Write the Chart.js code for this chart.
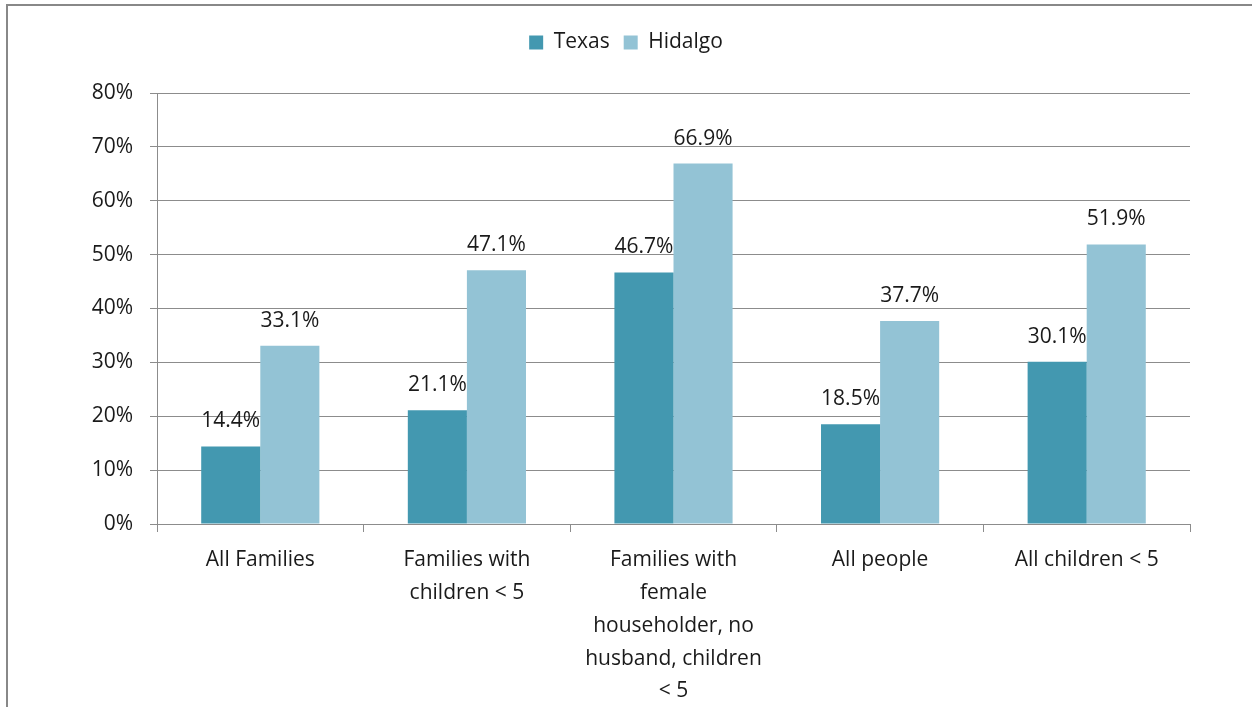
<!DOCTYPE html>
<html>
<head>
<meta charset="utf-8">
<script src="https://cdn.jsdelivr.net/npm/chart.js@4"></script>
<style>
  body { margin: 0; background: #fff; overflow: hidden; }
  #wrap { position: relative; width: 1252px; height: 707px; }
  #frame { position: absolute; left: 6px; top: 4px; width: 1400px; height: 900px;
           border-top: 2px solid #888; border-left: 2px solid #888; pointer-events: none; }
</style>
</head>
<body>
<div id="wrap">
  <canvas id="povertyChart" width="1252" height="707"></canvas>
  <div id="frame"></div>
</div>
<script>
let categories = [
  'All Families',
  ['Families with', 'children < 5'],
  ['Families with', 'female', 'householder, no', 'husband, children', '< 5'],
  'All people',
  'All children < 5'
];
let texas = [14.4, 21.1, 46.7, 18.5, 30.1];
let hidalgo = [33.1, 47.1, 66.9, 37.7, 51.9];
let yTicks = [0, 10, 20, 30, 40, 50, 60, 70, 80];

let fontName = "'Open Sans', 'DejaVu Sans', sans-serif";
let textColor = '#1a1a1a';
let gridColor = '#8c8c8c';

// value labels above each bar
let barLabels = {
  id: 'barLabels',
  afterDatasetsDraw(chart) {
    let ctx = chart.ctx;
    ctx.save();
    ctx.font = '21px ' + fontName;
    ctx.fillStyle = textColor;
    ctx.textAlign = 'center';
    ctx.textBaseline = 'alphabetic';
    chart.data.datasets.forEach((ds, i) => {
      chart.getDatasetMeta(i).data.forEach((bar, j) => {
        ctx.fillText(ds.data[j].toFixed(1) + '%', bar.x, bar.y - 19);
      });
    });
    ctx.restore();
  }
};

// fixed legend height so the plot starts at the right place
let legendHeight = {
  id: 'legendHeight',
  beforeUpdate(chart) {
    let lg = chart.legend;
    if (lg && !lg._fixed) {
      let fit = lg.fit;
      lg.fit = function () { fit.call(this); this.height = 75; };
      lg._fixed = true;
    }
  }
};

let ctx = document.getElementById('povertyChart').getContext('2d');
let myChart = new Chart(ctx, {
  type: 'bar',
  data: {
    labels: categories,
    datasets: [{
      label: 'Texas',
      data: texas,
      backgroundColor: '#4398b0',
      borderWidth: 0
    }, {
      label: 'Hidalgo',
      data: hidalgo,
      backgroundColor: '#93c3d5',
      borderWidth: 0
    }]
  },
  options: {
    responsive: false,
    animation: false,
    layout: { padding: { left: 0, right: 0, top: 18, bottom: 0 } },
    datasets: {
      bar: { categoryPercentage: 0.572, barPercentage: 1.0 }
    },
    scales: {
      x: {
        afterFit: (s) => { s.height = 183; },
        grid: { offset: true, drawOnChartArea: false, tickLength: 8, color: gridColor },
        border: { color: gridColor },
        ticks: {
          color: textColor,
          padding: 12,
          maxRotation: 0,
          autoSkip: false,
          font: { family: fontName, size: 21, lineHeight: 1.56 }
        }
      },
      y: {
        min: 0,
        max: 80,
        afterFit: (s) => { s.width = 157; },
        afterBuildTicks: (s) => { s.ticks = yTicks.map(v => ({ value: v })); },
        grid: { color: gridColor, tickLength: 7 },
        border: { color: gridColor },
        ticks: {
          color: textColor,
          padding: 17,
          font: { family: fontName, size: 21 },
          callback: (v) => v + '%'
        }
      },
      yRight: {
        position: 'right',
        display: true,
        afterFit: (s) => { s.width = 62; },
        grid: { display: false },
        border: { display: false },
        ticks: { display: false }
      }
    },
    plugins: {
      legend: {
        position: 'top',
        labels: {
          color: textColor,
          boxWidth: 14,
          boxHeight: 14,
          padding: 14,
          font: { family: fontName, size: 21 }
        }
      },
      tooltip: { enabled: false }
    }
  },
  plugins: [barLabels, legendHeight]
});
</script>
</body>
</html>
